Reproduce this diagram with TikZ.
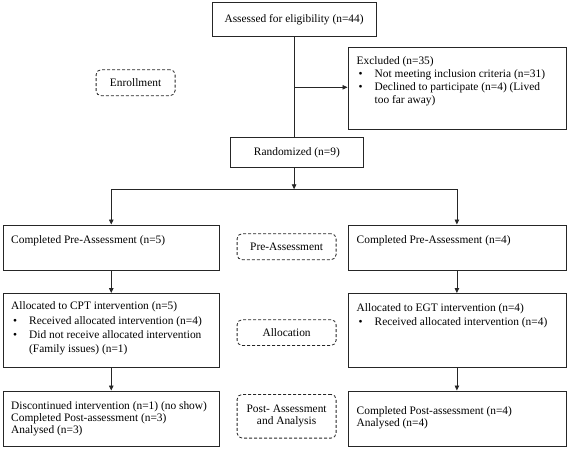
\documentclass[tikz,border=0pt]{standalone}
\usepackage{fontspec}
\setmainfont{Liberation Serif}
\usetikzlibrary{arrows.meta}
\newcommand{\bl}{\makebox[18pt][l]{\hspace{2pt}\textbullet}}
\begin{document}
\begin{tikzpicture}[x=1pt,y=-1pt,
  box/.style={draw=black!85, line width=0.8pt, anchor=north west, inner sep=0pt},
  phase/.style={draw=black!85, dash pattern=on 3pt off 2pt, rounded corners=5pt, line width=0.8pt,
    anchor=north west, inner sep=0pt, align=center, font=\fontsize{11.4}{13}\selectfont},
  txt/.style={anchor=north west, inner sep=0pt, align=left, font=\fontsize{11.4}{13}\selectfont},
  ctxt/.style={inner sep=0pt, align=center, font=\fontsize{11.4}{13}\selectfont},
  ln/.style={draw=black!85, line width=0.8pt},
  arr/.style={draw=black!85, line width=0.8pt, -{Triangle[length=5pt,width=4.5pt]}}]
\useasboundingbox (0,0) rectangle (567,448);
% boxes
\node[box, minimum width=164pt, minimum height=34pt] (assess) at (211.7,2) {};
\node[ctxt] (assess-t) at (assess.center) {Assessed for eligibility (n=44)};
\node[box, minimum width=218pt, minimum height=81.5pt] (excl) at (347.5,47) {};
\node[txt] (excl-t) at (356.5,56.5) {Excluded (n=35)\\
\bl Not meeting inclusion criteria (n=31)\\
\bl Declined to participate (n=4) (Lived\\
\hspace*{18pt}too far away)};
\node[phase, minimum width=79pt, minimum height=26pt] (enrol) at (95.7,69.3) {Enrollment};
\node[box, minimum width=132.4pt, minimum height=29.4pt] (rand) at (230.3,137.3) {};
\node[ctxt] (rand-t) at (rand.center) {Randomized (n=9)};
% row 2
\node[box, minimum width=216.3pt, minimum height=45pt] (cpre) at (2.7,224.5) {};
\node[txt] (cpre-t) at (11,235.5) {Completed Pre-Assessment (n=5)};
\node[phase, minimum width=99pt, minimum height=26pt] (ppre) at (236.7,233.3) {Pre-Assessment};
\node[box, minimum width=218pt, minimum height=45pt] (epre) at (347.5,224.5) {};
\node[txt] (epre-t) at (356.5,235.5) {Completed Pre-Assessment (n=4)};
% row 3
\node[box, minimum width=216.3pt, minimum height=73.5pt] (calloc) at (2.7,293) {};
\node[txt, font=\fontsize{11.4}{14.4}\selectfont] (calloc-t) at (11,301.5) {Allocated to CPT intervention (n=5)\\
\bl Received allocated intervention (n=4)\\
\bl Did not receive allocated intervention\\
\hspace*{18pt}(Family issues) (n=1)};
\node[phase, minimum width=99pt, minimum height=25.7pt] (palloc) at (236.7,319.3) {Allocation};
\node[box, minimum width=218pt, minimum height=73.5pt] (ealloc) at (347.5,293) {};
\node[txt, font=\fontsize{11.4}{14.4}\selectfont] (ealloc-t) at (356.5,303) {Allocated to EGT intervention (n=4)\\
\bl Received allocated intervention (n=4)};
% row 4
\node[box, minimum width=216.3pt, minimum height=55.5pt] (cpost) at (2.7,390.5) {};
\node[txt, font=\fontsize{11.4}{12.2}\selectfont] (cpost-t) at (11,401.2) {Discontinued intervention (n=1) (no show)\\
Completed Post-assessment (n=3)\\
Analysed (n=3)};
\node[phase, minimum width=99pt, minimum height=43.7pt, font=\fontsize{11.4}{12.4}\selectfont] (ppost) at (236.7,394) {Post- Assessment\\and Analysis};
\node[box, minimum width=218pt, minimum height=55.5pt] (epost) at (347.5,390.5) {};
\node[txt, font=\fontsize{11.4}{12.3}\selectfont] (epost-t) at (356.5,406) {Completed Post-assessment (n=4)\\
Analysed (n=4)};
% connectors
\coordinate (br) at (assess.south |- 0,87.3);
\coordinate (split) at (assess.south |- 0,189.3);
\draw[ln] (assess.south) -- (assess.south |- rand.north);
\draw[arr] (br) -- (excl.west |- br);
\draw[arr] (assess.south |- rand.south) -- (split);
\draw[ln] (cpre.north |- split) -- (epre.north |- split);
\draw[arr] (cpre.north |- split) -- (cpre.north);
\draw[arr] (epre.north |- split) -- (epre.north);
\draw[arr] (cpre.south) -- (calloc.north);
\draw[arr] (epre.south) -- (ealloc.north);
\draw[arr] (calloc.south) -- (cpost.north);
\draw[arr] (ealloc.south) -- (epost.north);
\end{tikzpicture}
\end{document}
